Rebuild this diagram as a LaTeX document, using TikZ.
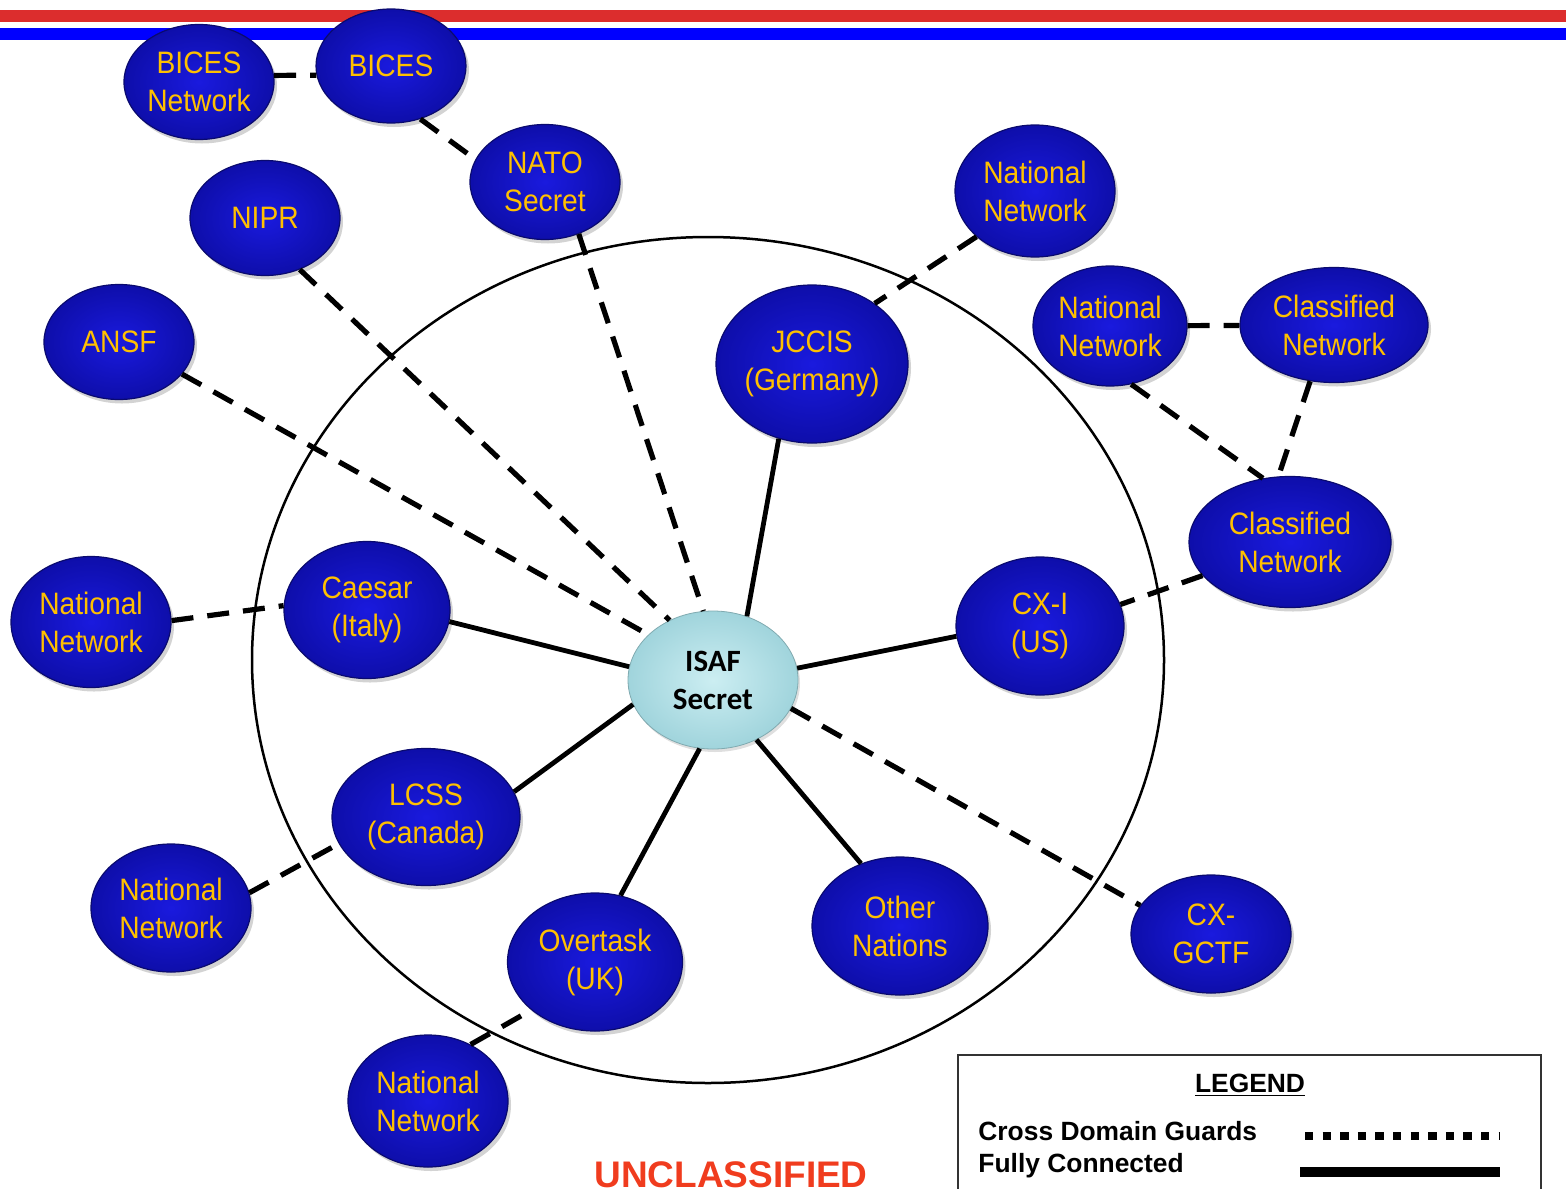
\documentclass[tikz,border=0pt]{standalone}
\usepackage{fontspec}
\setmainfont{Liberation Sans}
\newfontfamily\narrowfont[FakeStretch=0.91]{Liberation Sans}
\newfontfamily\hubfont{Carlito}
\usetikzlibrary{shapes.geometric,shadows}

\definecolor{netblue}{RGB}{26,26,222}
\definecolor{netdark}{RGB}{14,14,170}
\definecolor{netedge}{RGB}{10,10,110}
\definecolor{labelgold}{RGB}{255,192,0}
\definecolor{hublight}{RGB}{204,238,242}
\definecolor{hubdark}{RGB}{160,212,220}
\definecolor{stripered}{RGB}{220,45,45}
\definecolor{unclassred}{RGB}{240,60,30}

\begin{document}
\begin{tikzpicture}
  [
    x=0.5pt, y=-0.5pt,
    inner sep=0pt,
    netsize/.style 2 args={minimum width=#1,minimum height=#2},
    net/.style={ellipse,draw=netedge,line width=0.6pt,shade,inner color=netblue,outer color=netdark,
      drop shadow={shadow xshift=1.5pt,shadow yshift=-2pt,opacity=0.35},
      text=labelgold,align=center,font=\narrowfont\fontsize{15.5}{19}\selectfont},
    hub/.style={ellipse,draw=hubdark!80!black,line width=0.4pt,shade,inner color=hublight,outer color=hubdark,
      drop shadow={shadow xshift=1pt,shadow yshift=-1.5pt,opacity=0.25},
      align=center,font=\hubfont\bfseries\fontsize{15.5}{19}\selectfont},
    guard/.style={line width=2.6pt,dash pattern=on 11pt off 7pt},
    link/.style={line width=2.4pt},
    legendtext/.style={font=\bfseries\fontsize{13.2}{16}\selectfont},
  ]
  \useasboundingbox (0,0) rectangle (1566,1188);

  % banner stripes
  \fill[stripered] (0,10) rectangle (1566,22);
  \fill[blue]      (0,28) rectangle (1566,40);

  % theatre boundary
  \draw[line width=1.25pt] (708,660) ellipse [x radius=228pt,y radius=211.5pt];

  % networks
  \node[net,netsize={75pt}{57.5pt}]   (bicesnet)     at ( 199,  82) {BICES\\Network};
  \node[net,netsize={75pt}{57pt}]     (bices)        at ( 391,  66) {BICES};
  \node[net,netsize={75pt}{57.5pt}]   (natosecret)   at ( 545, 182) {NATO\\Secret};
  \node[net,netsize={75pt}{57.5pt}]   (nipr)         at ( 265, 218) {NIPR};
  \node[net,netsize={75pt}{57.5pt}]   (ansf)         at ( 119, 342) {ANSF};
  \node[net,netsize={80pt}{66pt}]     (natnetne)     at (1035, 191) {National\\Network};
  \node[net,netsize={96pt}{79pt}]     (jccis)        at ( 812, 364) {JCCIS\\(Germany)};
  \node[net,netsize={77pt}{60pt}]     (natnete)      at (1110, 326) {National\\Network};
  \node[net,netsize={94pt}{57.5pt}]   (classne)      at (1334, 325) {Classified\\Network};
  \node[net,netsize={101pt}{65.5pt}]  (classe)       at (1290, 542) {Classified\\Network};
  \node[net,netsize={84pt}{69pt}]     (cxi)          at (1040, 626) {CX-I\\(US)};
  \node[net,netsize={80pt}{65.5pt}]   (natnetw)      at (  91, 622) {National\\Network};
  \node[net,netsize={83pt}{68.5pt}]   (caesar)       at ( 367, 610) {Caesar\\(Italy)};
  \node[hub,netsize={85pt}{69pt}]     (isaf)         at ( 713, 680) {ISAF\\Secret};
  \node[net,netsize={94pt}{68.5pt}]   (lcss)         at ( 426, 817) {LCSS\\(Canada)};
  \node[net,netsize={80pt}{64pt}]     (natnetsw)     at ( 171, 908) {National\\Network};
  \node[net,netsize={87.5pt}{69pt}]   (overtask)     at ( 595, 962) {Overtask\\(UK)};
  \node[net,netsize={88pt}{69pt}]     (othernations) at ( 900, 926) {Other\\Nations};
  \node[net,netsize={80pt}{59pt}]     (cxgctf)       at (1211, 934) {CX-\\GCTF};
  \node[net,netsize={80pt}{66pt}]     (natnets)      at ( 428,1101) {National\\Network};

  % cross domain guards
  \draw[guard] (bicesnet.5) -- (bices.187);
  \draw[guard] (bices.299) -- (natosecret.162);
  \draw[guard] (natosecret.303) -- (isaf.98);
  \draw[guard] (nipr.304) -- (isaf.126);
  \draw[guard] (ansf.333) -- (isaf.145);
  \draw[guard] (natnetne.218) -- (jccis.44);
  \draw[guard] (natnete) -- (classne);
  \draw[guard] (natnete.290) -- (classe.113);
  \draw[guard] (classne.247) -- (classe.100);
  \draw[guard] (classe.201) -- (cxi.15);
  \draw[guard] (natnetw.1) -- (caesar.177);
  \draw[guard] (natnetsw.11) -- (lcss.197);
  \draw[guard] (natnets.53) -- (overtask.217);
  \draw[guard] (isaf.340) -- (cxgctf.158);

  % fully connected
  \draw[link] (isaf.62)  -- (jccis.246);
  \draw[link] (isaf.171) -- (caesar.352);
  \draw[link] (isaf.8)   -- (cxi.187);
  \draw[link] (isaf.197) -- (lcss.16);
  \draw[link] (isaf.259) -- (overtask.69);
  \draw[link] (isaf.306) -- (othernations.122);

  % legend
  \draw[draw=black!80,line width=0.8pt] (958,1200) |- (1541,1055) -- (1541,1200);
  \node[legendtext,anchor=base]      (legendtitle) at (1250,1092) {\underline{LEGEND}};
  \node[legendtext,anchor=base west] (cdglabel)    at ( 978,1140) {Cross Domain Guards};
  \node[legendtext,anchor=base west] (fclabel)     at ( 978,1172) {Fully Connected};
  \coordinate (cdgstart) at (1305,1136);
  \coordinate (cdgend)   at (1500,1136);
  \coordinate (fcstart)  at (1300,1172);
  \coordinate (fcend)    at (1500,1172);
  \draw[line width=4pt,dash pattern=on 4.2pt off 4.6pt] (cdgstart) -- (cdgend);
  \draw[line width=5pt] (fcstart) -- (fcend);

  \node[anchor=base,text=unclassred,font=\bfseries\fontsize{18.5}{22}\selectfont] (unclass) at (731,1187) {UNCLASSIFIED};
\end{tikzpicture}
\end{document}
